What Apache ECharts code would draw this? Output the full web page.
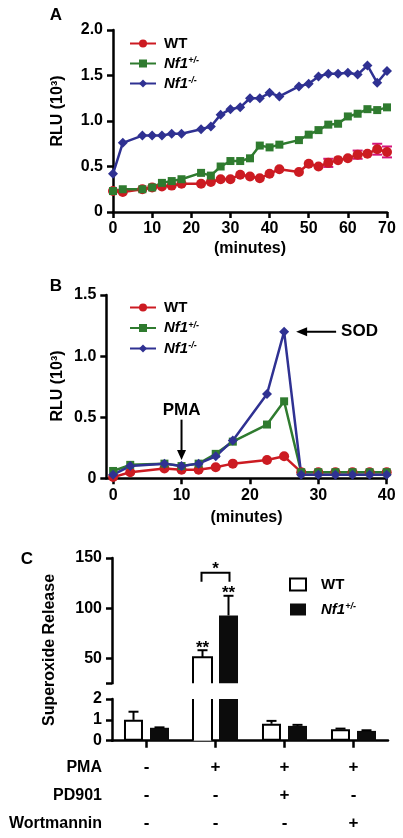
<!DOCTYPE html>
<html><head><meta charset="utf-8">
<script src="https://cdn.jsdelivr.net/npm/echarts@6/dist/echarts.min.js"></script>
<style>html,body{margin:0;padding:0;background:#fff}#c{width:403px;height:838px}</style>
</head><body><div id="c"></div>
<script>
// ---------- DATA ----------
// Panel A (RLU x10^3 vs minutes)
const minutesA = [0,2.5,7.5,10,12.5,15,17.5,22.5,25,27.5,30,32.5,35,37.5,40,42.5,47.5,50,52.5,55,57.5,60,62.5,65,67.5,70];
const wtA    = [0.23,0.22,0.25,0.27,0.28,0.29,0.31,0.31,0.33,0.36,0.36,0.41,0.39,0.37,0.42,0.47,0.44,0.53,0.50,0.54,0.57,0.59,0.63,0.64,0.69,0.66];
const hetA   = [0.23,0.25,0.25,0.27,0.32,0.34,0.36,0.43,0.40,0.50,0.56,0.56,0.59,0.73,0.71,0.74,0.79,0.85,0.90,0.96,0.97,1.05,1.08,1.13,1.12,1.15];
const nullA  = [0.42,0.76,0.84,0.84,0.84,0.86,0.86,0.91,0.94,1.07,1.13,1.15,1.25,1.25,1.31,1.27,1.38,1.41,1.49,1.52,1.52,1.53,1.51,1.61,1.42,1.55];
const wtErrMinutesA = [55,62.5,67.5,70];
const wtErrA        = [0.045,0.045,0.06,0.06];

// Panel B
const minutesB = [0,2.5,7.5,10,12.5,15,17.5,22.5,25,27.5,30,32.5,35,37.5,40];
const wtB   = [0.01,0.05,0.08,0.07,0.07,0.09,0.12,0.15,0.18,0.05,0.05,0.05,0.05,0.05,0.05];
const hetB  = [0.06,0.11,0.12,0.10,0.12,0.20,0.30,0.44,0.63,0.05,0.05,0.05,0.05,0.05,0.05];
const nullB = [0.03,0.10,0.12,0.10,0.12,0.18,0.31,0.69,1.20,0.03,0.03,0.03,0.03,0.03,0.03];
const xTicksB = [0,10,20,30,40];
const pmaMinute = 10, sodMinute = 25;

// Panel C
const groupsC = ['g1','g2','g3','g4'];
const wtC     = [1.0, 51, 0.81, 0.55];
const wtErrC  = [0.39, 7, 0.14, 0.03];
const hetC    = [0.62, 92.7, 0.71, 0.47];
const hetErrC = [0.02, 19.6, 0.05, 0.03];
const rowPMA  = ['-','+','+','+'];
const rowPD   = ['-','-','+','-'];
const rowWort = ['-','-','-','+'];
const rowNames = ['PMA','PD901','Wortmannin'];
const upperTicksC = [25,50,100,150];
const upperLabelsC = [50,100,150];
const upperMinC = 25, lowerMaxC = 2;

// ---------- STYLE ----------
const F = 'Liberation Sans, Arial, Helvetica, sans-serif';
const RED = '#cc1b22', GREEN = '#2f7b2f', BLUE = '#2f3192', ERR = '#d4157c';
const chart = echarts.init(document.getElementById('c'), null, {renderer:'canvas'});

const axisLine = {show:true, onZero:false, lineStyle:{color:'#000', width:2.5}};
const axisTick = {show:true, inside:false, length:6, lineStyle:{color:'#000', width:2.5}};
const lbl = {color:'#000', fontFamily:F, fontWeight:'bold', fontSize:16};

function rich(pad){
  return {
    b:{fontFamily:F, fontWeight:'bold', fontSize:15, color:'#000', padding:[0,0,0,pad]},
    i:{fontFamily:F, fontWeight:'bold', fontStyle:'italic', fontSize:15, color:'#000', padding:[0,0,0,pad]},
    s:{fontFamily:F, fontWeight:'bold', fontStyle:'italic', fontSize:9, color:'#000', verticalAlign:'top', padding:[0,0,6,0]}
  };
}
const legendFmt = n => ({'WT':'{b|WT}','Nf1+/-':'{i|Nf1}{s|+/-}','Nf1-/-':'{i|Nf1}{s|-/-}',
  'WT (C)':'{b|WT}','Nf1+/- (C)':'{i|Nf1}{s|+/-}'})[n];

function pairs(xs, ys){ return xs.map((x,i)=>[x, ys[i]]); }
function lineSeries(name, data, color, symbol, size, xi){
  return {type:'line', name, xAxisIndex:xi, yAxisIndex:xi, data, color,
    symbol, symbolSize:size, lineStyle:{width:2.5, color}, itemStyle:{color},
    animation:false, z:3};
}

const errDataA = wtErrMinutesA.map((m,k)=>[m, wtA[minutesA.indexOf(m)], wtErrA[k]]);

function errBarRenderA(params, api){
  const x = api.value(0), v = api.value(1), e = api.value(2);
  const lo = api.coord([x, v-e]), hi = api.coord([x, v+e]);
  const hw = 5;
  return {type:'group', children:[
    {type:'line', shape:{x1:lo[0], y1:lo[1], x2:hi[0], y2:hi[1]}, style:{stroke:ERR, lineWidth:2}},
    {type:'line', shape:{x1:lo[0]-hw, y1:lo[1], x2:lo[0]+hw, y2:lo[1]}, style:{stroke:ERR, lineWidth:2}},
    {type:'line', shape:{x1:hi[0]-hw, y1:hi[1], x2:hi[0]+hw, y2:hi[1]}, style:{stroke:ERR, lineWidth:2}}
  ]};
}
function errBarRenderC(offset){
  return function(params, api){
    const i = api.value(0), v = api.value(1), e = api.value(2);
    const b = api.coord([i, v]), t = api.coord([i, v+e]);
    const x = b[0] + offset, hw = 5;
    return {type:'group', children:[
      {type:'line', shape:{x1:x, y1:b[1], x2:x, y2:t[1]}, style:{stroke:'#000', lineWidth:2}},
      {type:'line', shape:{x1:x-hw, y1:t[1], x2:x+hw, y2:t[1]}, style:{stroke:'#000', lineWidth:2}}
    ]};
  };
}
// open outline for broken white bars (open at the axis break)
function openOutlineRender(offset, halfW, openTop){
  return function(params, api){
    const i = api.value(0), v = api.value(1), lo = api.value(2);
    const t = api.coord([i, v]), b = api.coord([i, lo]);
    const xl = t[0] + offset - halfW, xr = t[0] + offset + halfW;
    const pts = openTop ? null : [[xl, b[1]],[xl, t[1]],[xr, t[1]],[xr, b[1]]];
    if (openTop) {
      return {type:'group', children:[
        {type:'line', shape:{x1:xl, y1:b[1], x2:xl, y2:t[1]}, style:{stroke:'#000', lineWidth:2}},
        {type:'line', shape:{x1:xr, y1:b[1], x2:xr, y2:t[1]}, style:{stroke:'#000', lineWidth:2}}
      ]};
    }
    return {type:'polyline', shape:{points:pts}, style:{stroke:'#000', lineWidth:2, fill:null}};
  };
}
const upperC = arr => arr.map(v => v > upperMinC ? v : '-');
const lowerC = arr => arr.map(v => Math.min(v, lowerMaxC));
const errUpper = (vals, errs) => vals.map((v,i)=>[i, v, errs[i]]).filter(d => d[1] > upperMinC);
const errLower = (vals, errs) => vals.map((v,i)=>[i, v, errs[i]]).filter(d => d[1] < lowerMaxC);
// WT bar items: closed outline in lower panel unless broken; upper pieces drawn open at bottom
const wtLowerItems = wtC.map(v => v > lowerMaxC
  ? {value:lowerMaxC, itemStyle:{borderWidth:0}} : v);
const wtUpperItems = wtC.map(v => v > upperMinC ? {value:v, itemStyle:{borderWidth:0}} : '-');
const wtUpperOutline = wtC.map((v,i)=>[i, v, upperMinC]).filter(d => d[1] > upperMinC);
const wtLowerOutline = wtC.map((v,i)=>[i, lowerMaxC, 0]).filter((d,i) => wtC[i] > lowerMaxC);

const option = {
  animation:false,
  backgroundColor:'#fff',
  grid:[
    {left:113, top:30, width:274, height:182},
    {left:106.3, top:295, width:280.4, height:183.3},
    {left:112, top:558, width:276, height:125.3},
    {left:112, top:699, width:276, height:41.7}
  ],
  xAxis:[
    {gridIndex:0, type:'value', min:0, max:70, interval:10, axisLine, axisTick,
     axisLabel:{...lbl, margin:9}, splitLine:{show:false},
     name:'(minutes)', nameLocation:'middle', nameGap:29,
     nameTextStyle:{color:'#000', fontFamily:F, fontWeight:'bold', fontSize:16}},
    {gridIndex:1, type:'value', min:-1, max:40, axisLine,
     axisTick:{...axisTick, customValues:xTicksB},
     axisLabel:{...lbl, margin:9, customValues:xTicksB}, splitLine:{show:false},
     name:'(minutes)', nameLocation:'middle', nameGap:31,
     nameTextStyle:{color:'#000', fontFamily:F, fontWeight:'bold', fontSize:16}},
    {gridIndex:2, type:'category', data:groupsC, show:false},
    {gridIndex:3, type:'category', data:groupsC, axisLine,
     axisTick:{show:true, alignWithLabel:true, length:7, lineStyle:{color:'#000', width:2.5}},
     axisLabel:{color:'#000', fontFamily:F, fontWeight:'bold', fontSize:17, lineHeight:28, margin:13,
       formatter:(v, i) => rowPMA[i] + '\n' + rowPD[i] + '\n' + rowWort[i]}}
  ],
  yAxis:[
    {gridIndex:0, type:'value', min:0, max:2, interval:0.5, axisLine, axisTick,
     axisLabel:{...lbl, margin:10, formatter:v => v===0 ? '0' : v.toFixed(1)}, splitLine:{show:false}},
    {gridIndex:1, type:'value', min:0, max:1.5, interval:0.5, axisLine, axisTick,
     axisLabel:{...lbl, margin:10, formatter:v => v===0 ? '0' : v.toFixed(1)}, splitLine:{show:false}},
    {gridIndex:2, type:'value', min:upperMinC, max:150, axisLine,
     axisTick:{...axisTick, customValues:upperTicksC},
     axisLabel:{...lbl, margin:10, customValues:upperLabelsC}, splitLine:{show:false}},
    {gridIndex:3, type:'value', min:0, max:lowerMaxC, interval:1, axisLine, axisTick,
     axisLabel:{...lbl, margin:10}, splitLine:{show:false}}
  ],
  legend:[
    {data:['WT','Nf1+/-','Nf1-/-'], orient:'vertical', left:129, top:36, padding:0, itemWidth:26, itemHeight:10,
     itemGap:5, formatter:legendFmt, textStyle:{rich:rich(3), lineHeight:14}},
    {data:['WT','Nf1+/-','Nf1-/-'], orient:'vertical', left:129, top:300, padding:0, itemWidth:26, itemHeight:10,
     itemGap:5.5, formatter:legendFmt, textStyle:{rich:rich(3), lineHeight:14}},
    {data:[{name:'WT (C)', icon:'rect'},{name:'Nf1+/- (C)', icon:'rect'}], orient:'vertical', left:289, top:577,
     padding:0, itemWidth:16, itemHeight:12, itemGap:10, formatter:legendFmt, textStyle:{rich:rich(10), lineHeight:14}}
  ],
  series:[
    {type:'custom', name:'WT err A', xAxisIndex:0, yAxisIndex:0, data:errDataA, renderItem:errBarRenderA, z:2, silent:true},
    lineSeries('WT', pairs(minutesA, wtA), RED, 'circle', 10, 0),
    lineSeries('Nf1+/-', pairs(minutesA, hetA), GREEN, 'rect', 8, 0),
    lineSeries('Nf1-/-', pairs(minutesA, nullA), BLUE, 'diamond', 10, 0),
    lineSeries('WT', pairs(minutesB, wtB), RED, 'circle', 10, 1),
    lineSeries('Nf1+/-', pairs(minutesB, hetB), GREEN, 'rect', 8, 1),
    lineSeries('Nf1-/-', pairs(minutesB, nullB), BLUE, 'diamond', 10, 1),
    {type:'bar', name:'WT (C)', xAxisIndex:2, yAxisIndex:2, data:wtUpperItems, barWidth:19, barGap:'37%',
     itemStyle:{color:'#fff', borderColor:'#000', borderWidth:2}},
    {type:'bar', name:'Nf1+/- (C)', xAxisIndex:2, yAxisIndex:2, data:upperC(hetC), barWidth:19, barGap:'37%',
     itemStyle:{color:'#0c0c0c', borderColor:'#000', borderWidth:0}},
    {type:'bar', name:'WT (C)', xAxisIndex:3, yAxisIndex:3, data:wtLowerItems, barWidth:19, barGap:'37%',
     itemStyle:{color:'#fff', borderColor:'#000', borderWidth:2}},
    {type:'bar', name:'Nf1+/- (C)', xAxisIndex:3, yAxisIndex:3, data:lowerC(hetC), barWidth:19, barGap:'37%',
     itemStyle:{color:'#0c0c0c', borderColor:'#000', borderWidth:0}},
    {type:'custom', name:'wtOutlineU', xAxisIndex:2, yAxisIndex:2, data:wtUpperOutline, renderItem:openOutlineRender(-13, 9.5, false), z:4},
    {type:'custom', name:'wtOutlineL', xAxisIndex:3, yAxisIndex:3, data:wtLowerOutline, renderItem:openOutlineRender(-13, 9.5, true), z:4},
    {type:'custom', name:'errC1', xAxisIndex:2, yAxisIndex:2, data:errUpper(wtC, wtErrC), renderItem:errBarRenderC(-13), z:5},
    {type:'custom', name:'errC2', xAxisIndex:2, yAxisIndex:2, data:errUpper(hetC, hetErrC), renderItem:errBarRenderC(13), z:5},
    {type:'custom', name:'errC3', xAxisIndex:3, yAxisIndex:3, data:errLower(wtC, wtErrC), renderItem:errBarRenderC(-13), z:5},
    {type:'custom', name:'errC4', xAxisIndex:3, yAxisIndex:3, data:errLower(hetC, hetErrC), renderItem:errBarRenderC(13), z:5}
  ]
};
chart.setOption(option);

// ---------- ANNOTATIONS ----------
const TXT = (text, x, y, size, extra) => Object.assign({type:'text', x, y, z:100,
  style:{text, fill:'#000', font:'bold '+size+'px '+F, textAlign:'center', textVerticalAlign:'middle'}}, extra||{});
const g = [];
g.push(TXT('A', 56, 15, 17));
g.push(TXT('B', 56, 286, 17));
g.push(TXT('C', 27, 559, 17));
g.push(TXT('RLU (10³)', 58, 111, 16, {rotation:Math.PI/2}));
g.push(TXT('RLU (10³)', 58, 386, 16, {rotation:Math.PI/2}));
g.push(TXT('Superoxide Release', 50, 650, 16, {rotation:Math.PI/2}));
rowNames.forEach((n,k)=>{
  g.push({type:'text', x:102, y:768 + k*28, z:100,
    style:{text:n, fill:'#000', font:'bold 16px '+F, textAlign:'right', textVerticalAlign:'middle'}});
});
// PMA arrow
const pTop = chart.convertToPixel({xAxisIndex:1, yAxisIndex:1}, [pmaMinute, 0.48]);
const pTip = chart.convertToPixel({xAxisIndex:1, yAxisIndex:1}, [pmaMinute, 0.15]);
g.push(TXT('PMA', pTop[0], pTop[1]-9, 17));
g.push({type:'line', z:100, shape:{x1:pTop[0], y1:pTop[1], x2:pTip[0], y2:pTip[1]-8}, style:{stroke:'#000', lineWidth:2}});
g.push({type:'polygon', z:100, shape:{points:[[pTip[0]-4.5, pTip[1]-10],[pTip[0]+4.5, pTip[1]-10],[pTip[0], pTip[1]]]}, style:{fill:'#000'}});
// SOD arrow
const sPeak = chart.convertToPixel({xAxisIndex:1, yAxisIndex:1}, [sodMinute, nullB[minutesB.indexOf(sodMinute)]]);
const sTip = [sPeak[0]+12, sPeak[1]];
g.push({type:'line', z:100, shape:{x1:sTip[0]+8, y1:sTip[1], x2:sTip[0]+40, y2:sTip[1]}, style:{stroke:'#000', lineWidth:2}});
g.push({type:'polygon', z:100, shape:{points:[[sTip[0], sTip[1]],[sTip[0]+11, sTip[1]-4.5],[sTip[0]+11, sTip[1]+4.5]]}, style:{fill:'#000'}});
g.push({type:'text', x:sTip[0]+45, y:sTip[1], z:100, style:{text:'SOD', fill:'#000', font:'bold 17px '+F, textAlign:'left', textVerticalAlign:'middle'}});
// significance marks panel C
const wtTop = chart.convertToPixel({xAxisIndex:2, yAxisIndex:2}, [groupsC[1], wtC[1] + wtErrC[1]]);
const hetTop = chart.convertToPixel({xAxisIndex:2, yAxisIndex:2}, [groupsC[1], hetC[1] + hetErrC[1]]);
const wx = wtTop[0] - 13, hx = hetTop[0] + 13;
g.push(TXT('**', wx, wtTop[1] - 2, 17));
g.push(TXT('**', hx, hetTop[1] - 2, 17));
const by = hetTop[1] - 23;
g.push({type:'polyline', z:100, shape:{points:[[wx-1, by+9],[wx-1, by],[hx+1, by],[hx+1, by+9]]}, style:{stroke:'#000', lineWidth:2, fill:null}});
g.push(TXT('*', (wx+hx)/2, by - 3, 17));
chart.setOption({graphic:g});
</script></body></html>
